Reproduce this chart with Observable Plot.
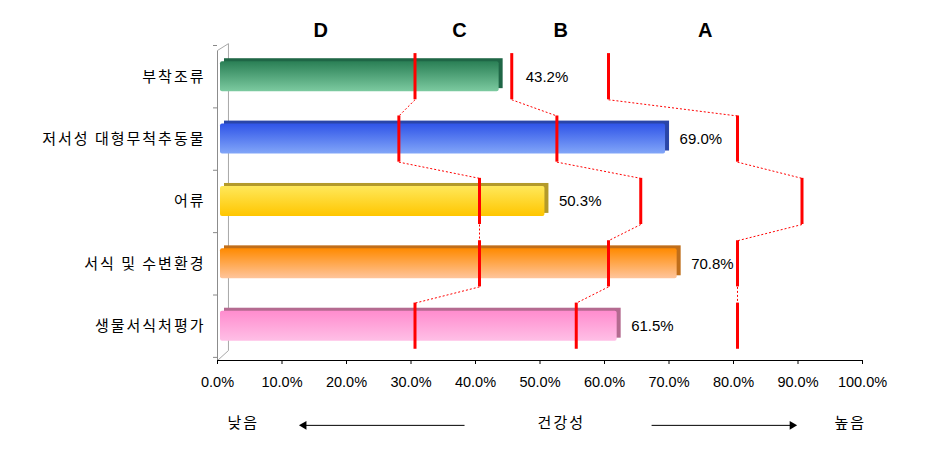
<!DOCTYPE html>
<html><head><meta charset="utf-8">
<script src="https://cdn.jsdelivr.net/npm/d3@7"></script>
<script src="https://cdn.jsdelivr.net/npm/@observablehq/plot@0.6"></script>
<style>body{margin:0;background:#fff} svg{display:block}</style>
</head><body><div id="chart"></div>
<script>
// ---- data ----
const categories = ["부착조류", "저서성 대형무척추동물", "어류", "서식 및 수변환경", "생물서식처평가"];
const values = [43.2, 69.0, 50.3, 70.8, 61.5];
const limitDC = [30, 27.5, 40, 40, 30];   // D|C boundary
const limitCB = [45, 52, 65, 60, 55];     // C|B boundary
const limitBA = [60, 80, 90, 80, 80];     // B|A boundary
const xTicks = [0, 10, 20, 30, 40, 50, 60, 70, 80, 90, 100];
const gradeLabels = ["D", "C", "B", "A"];
const gradeLabelX = [16, 37.5, 53.2, 75.6];
const scaleWords = ["낮음", "건강성", "높음"];
const scaleWordX = [4, 53.3, 98.1];
const arrowFrom = [38.3, 67.3];
const arrowTo = [13.4, 89.1];

// ---- styles ----
const gradTop = ["#2a7f55", "#2f54e8", "#ffe85a", "#ff8a00", "#ff8cce"];
const gradBottom = ["#7ccaa0", "#82a6f8", "#ffc600", "#ffc59c", "#ffbfe6"];
const sideFill = ["#1f6646", "#2a46a8", "#b49a2a", "#c06e1a", "#b46a90"];
const FONT = "'Liberation Sans', 'Noto Sans CJK KR', sans-serif";
const KFONT = "'Noto Sans CJK KR', sans-serif";
const yMax = 5.05;
// 3D wall depth (in scale units)
const wallX = 1.7, wallTop = 0.08, wallBackTop = -0.03, wallBackBottom = yMax - 0.16;

const rows = categories.map((c, i) => ({c, i, v: values[i]}));
const limits = [limitDC, limitCB, limitBA];
const segs = limits.flatMap(arr => arr.map((t, i) => ({t, i})));
const links = limits.flatMap(arr => arr.slice(0, -1).map((t, i) => ({t1: t, t2: arr[i + 1], i})));

function blocker(d) {
  return limits.map(a => a[d.i]).find(t => t > d.v && t < d.v + 4);
}
const labelsFree = rows.filter(d => blocker(d) === undefined);
const labelsMoved = rows.filter(d => blocker(d) !== undefined).map(d => ({...d, t: blocker(d)}));

const wallEdges = [
  {x1: 0, y1: wallTop, x2: 0, y2: yMax, s: "#8c8c8c"},
  {x1: wallX, y1: wallBackTop, x2: wallX, y2: wallBackBottom, s: "#a8a8a8"},
  {x1: 0, y1: wallTop, x2: wallX, y2: wallBackTop, s: "#a8a8a8"},
  {x1: 0, y1: yMax, x2: wallX, y2: wallBackBottom, s: "#a8a8a8"}
];

const defs = () => {
  const g = d3.create("svg:defs");
  rows.forEach((r, i) => {
    const lg = g.append("linearGradient").attr("id", "g" + i)
      .attr("x1", 0).attr("y1", 0).attr("x2", 0).attr("y2", 1);
    lg.append("stop").attr("offset", "0%").attr("stop-color", gradTop[i]);
    lg.append("stop").attr("offset", "100%").attr("stop-color", gradBottom[i]);
  });
  return g.node();
};

const chart = Plot.plot({
  width: 935,
  height: 471,
  marginLeft: 217,
  marginRight: 73,
  marginTop: 45,
  marginBottom: 111,
  style: {fontSize: "14.5px", fontFamily: FONT, color: "#000", background: "#fff"},
  x: {domain: [0, 100]},
  y: {domain: [0, yMax], reverse: true},
  marks: [
    defs,
    // 3D wall
    Plot.link(wallEdges, {x1: "x1", y1: "y1", x2: "x2", y2: "y2", stroke: "s", strokeWidth: 1}),
    Plot.ruleY([yMax], {x1: 0, x2: 100, stroke: "#000", strokeWidth: 1}),
    // axes
    Plot.axisX({ticks: xTicks, tickFormat: d => d.toFixed(1) + "%", tickSize: 4, tickPadding: 12, label: null, anchor: "bottom"}),
    Plot.axisY({ticks: d3.range(6), tickSize: 4, tickFormat: () => "", stroke: "#888", label: null, anchor: "left"}),
    Plot.axisY({ticks: d3.range(5).map(i => i + 0.5), tickSize: 0, tickPadding: 12, tickFormat: v => categories[Math.floor(v)], label: null, anchor: "left", fontSize: 15, fontFamily: KFONT, style: {letterSpacing: "2px"}}),
    // bars: 3D side face then gradient face
    ...rows.map((r, i) => Plot.rect([r], {x1: d => 0, x2: "v", y1: d => d.i + 0.26, y2: d => d.i + 0.74, fill: sideFill[i], dx: 7, dy: -3})),
    ...rows.map((r, i) => Plot.rect([r], {x1: d => 0, x2: "v", y1: d => d.i + 0.26, y2: d => d.i + 0.74, fill: `url(#g${i})`, dx: 3, rx: 2})),
    // grade boundaries
    Plot.link(links, {x1: "t1", x2: "t2", y1: d => d.i + 0.87, y2: d => d.i + 1.13, stroke: "#ff0000", strokeWidth: 1, strokeDasharray: "2,2", dx: 4}),
    Plot.ruleX(segs, {x: "t", y1: d => d.i + 0.13, y2: d => d.i + 0.87, stroke: "#ff0000", strokeWidth: 3, dx: 4}),
    // value labels
    Plot.text(labelsFree, {x: "v", y: d => d.i + 0.5, text: d => d.v.toFixed(1) + "%", textAnchor: "start", dx: 17, fontSize: 15}),
    Plot.text(labelsMoved, {x: "t", y: d => d.i + 0.5, text: d => d.v.toFixed(1) + "%", textAnchor: "start", dx: 18, fontSize: 15}),
    // grade letters
    Plot.text(gradeLabels, {x: (d, i) => gradeLabelX[i], y: () => -0.24, text: d => d, fontSize: 20, fontWeight: "bold", fontFamily: "'Liberation Sans', Arial, sans-serif"}),
    // bottom scale words and arrows
    Plot.text(scaleWords, {x: (d, i) => scaleWordX[i], y: () => 6.06, text: d => d, fontSize: 15, fontFamily: KFONT}),
    Plot.link(arrowFrom, {x1: d => d, x2: (d, i) => arrowTo[i], y1: () => 6.09, y2: () => 6.09, stroke: "#000", strokeWidth: 1}),
    Plot.dot(arrowTo, {x: d => d, y: () => 6.09, symbol: "triangle", r: 3.2, fill: "#000", stroke: "none", rotate: (d, i) => (i === 0 ? -90 : 90)})
  ]
});
// letter spacing for Korean texts (Gulim-like wide spacing)
d3.select(chart).selectAll("text").filter(function () { return /[\uAC00-\uD7A3]/.test(this.textContent); }).style("letter-spacing", "2px");
document.getElementById("chart").appendChild(chart);
</script>
</body></html>
